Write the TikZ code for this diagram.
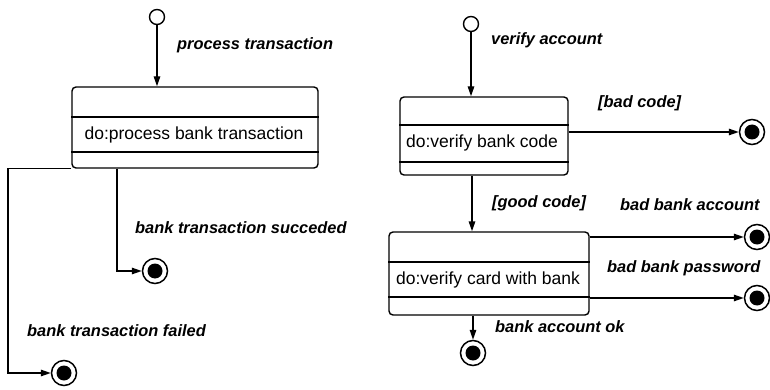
\documentclass[tikz,border=0pt]{standalone}
\usepackage{fontspec}
\setmainfont{Liberation Sans}
\usetikzlibrary{arrows.meta}
\tikzset{
  flow/.style={line width=1.4pt,-{Triangle[length=10pt,width=6.5pt]}},
  statebox/.style={draw,line width=1.4pt,rounded corners=4pt,inner sep=0pt},
  divider/.style={line width=1.4pt},
  acttext/.style={font=\fontsize{17.5}{20}\selectfont,inner sep=0pt},
  lbl/.style={font=\fontsize{16.4}{19}\selectfont\bfseries\itshape,anchor=west,inner sep=0pt},
  initstate/.style={circle,draw,line width=1.4pt,minimum size=15pt,inner sep=0pt,fill=white},
  finalstate/.style={circle,draw,line width=1.5pt,minimum size=25pt,inner sep=0pt,fill=white,
    path picture={\fill[black] (path picture bounding box.center) circle (7.5pt);}}
}
\begin{document}
\begin{tikzpicture}[x=1pt,y=-1pt]
\useasboundingbox (0,0) rectangle (770,390);

% --- process transaction ---
\node[initstate] (i1) at (157,17) {};
\node[statebox,minimum width=246pt,minimum height=81pt] (s1) at (195,127.5) {};
\draw[divider] (s1.west |- 0,117) -- (s1.east |- 0,117);
\draw[divider] (s1.west |- 0,152) -- (s1.east |- 0,152);
\node[acttext] (t1) at (194,135) {do:process bank transaction};
\node[finalstate] (f1) at (155,271) {};
\node[finalstate] (f2) at (64,373) {};

\draw[flow] (i1) -- (i1 |- s1.north);
\draw[flow] (s1.south -| 117,0) |- (f1);
\draw[flow] (s1.south west) -- (s1.south west -| 8,0) |- (f2);

\node[lbl] (l1) at (177,45) {process transaction};
\node[lbl] (l2) at (135,228) {bank transaction succeded};
\node[lbl] (l3) at (27,331) {bank transaction failed};

% --- verify account ---
\node[initstate] (i2) at (471,24) {};
\node[statebox,minimum width=168pt,minimum height=78pt] (s2) at (484,136) {};
\draw[divider] (s2.west |- 0,125) -- (s2.east |- 0,125);
\draw[divider] (s2.west |- 0,162) -- (s2.east |- 0,162);
\node[acttext] (t2) at (482,143) {do:verify bank code};

\node[statebox,minimum width=200pt,minimum height=83pt] (s3) at (489,273.5) {};
\draw[divider] (s3.west |- 0,262) -- (s3.east |- 0,262);
\draw[divider] (s3.west |- 0,297) -- (s3.east |- 0,297);
\node[acttext] (t3) at (488,280) {do:verify card with bank};

\node[finalstate] (f3) at (752,132) {};
\node[finalstate] (f4) at (757,237) {};
\node[finalstate] (f5) at (757,298) {};
\node[finalstate] (f6) at (473,353) {};

\draw[flow] (i2) -- (i2 |- s2.north);
\draw[flow] (s2.east |- f3) -- (f3);
\draw[flow] (s2.south -| 472,0) -- (s3.north -| 472,0);
\draw[flow] (s3.east |- f4) -- (f4);
\draw[flow] (s3.east |- f5) -- (f5);
\draw[flow] (s3.south -| f6) -- (f6);

\node[lbl] (l4) at (491,40) {verify account};
\node[lbl] (l5) at (598,103) {[bad code]};
\node[lbl] (l6) at (492,203) {[good code]};
\node[lbl] (l7) at (620,205) {bad bank account};
\node[lbl] (l8) at (607,268) {bad bank password};
\node[lbl] (l9) at (495,327) {bank account ok};
\end{tikzpicture}
\end{document}
